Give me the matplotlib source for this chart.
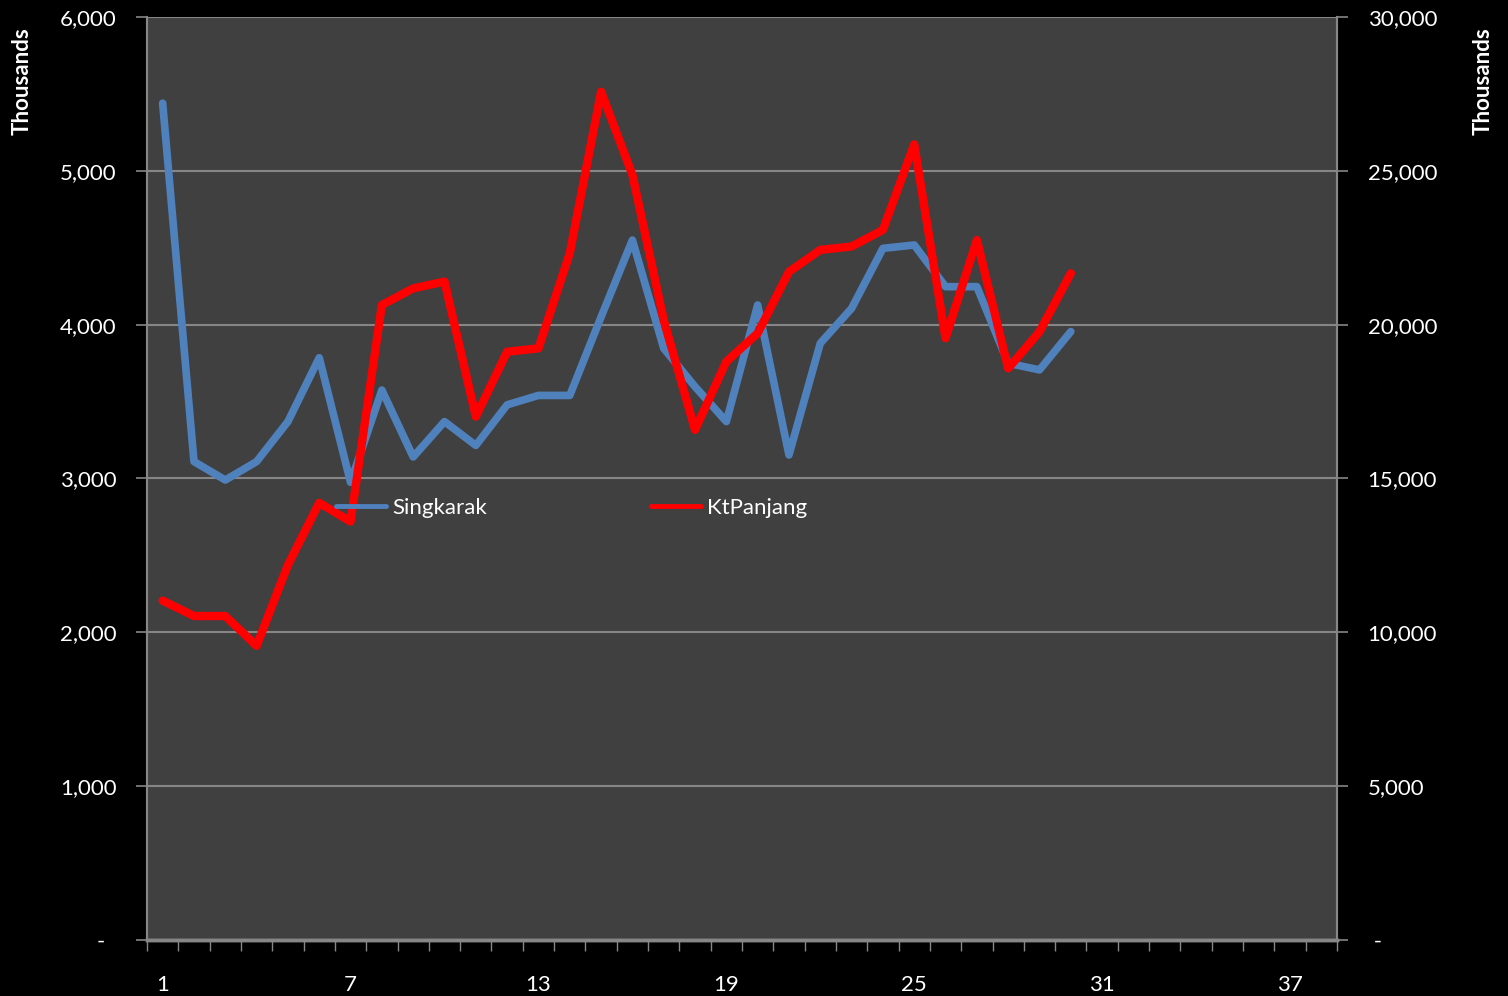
import matplotlib
matplotlib.use("Agg")
import matplotlib.pyplot as plt
from matplotlib.ticker import FuncFormatter, MultipleLocator

plt.rcParams['font.family'] = ['Lato', 'DejaVu Sans']

# data (thousands), categories 1..30 out of 38 slots
periods = list(range(1, 31))
singkarak = [5440, 3110, 2990, 3110, 3370, 3785, 2975, 3575, 3140, 3370,
             3215, 3479, 3540, 3540, 4050, 4550, 3846, 3597, 3370, 4128,
             3153, 3879, 4106, 4496, 4518, 4247, 4247, 3749, 3706, 3955]
ktpanjang = [11030, 10530, 10530, 9560, 12190, 14210, 13600, 20640, 21180, 21400,
             17010, 19120, 19230, 22320, 27570, 24870, 20150, 16580, 18800, 19720,
             21720, 22430, 22540, 23080, 25860, 19560, 22750, 18580, 19770, 21670]
n_slots = 38
xlabels = [1, 7, 13, 19, 25, 31, 37]

BG = '#000000'
PLOT_BG = '#404040'
GRID = '#868686'
BLUE = '#4F81BD'
RED = '#FF0000'

fig = plt.figure(figsize=(15.08, 9.96), dpi=100, facecolor=BG)
ax = fig.add_axes([147/1508, 1 - 940/996, 1190/1508, 923/996])
ax2 = ax.twinx()

ax.set_facecolor(PLOT_BG)
ax2.patch.set_visible(False)
ax2.set_zorder(ax.get_zorder() + 1)

l1, = ax.plot(periods, singkarak, color=BLUE, lw=5.5, solid_joinstyle='round',
              solid_capstyle='round', label='Singkarak')
l2, = ax2.plot(periods, ktpanjang, color=RED, lw=6, solid_joinstyle='round',
               solid_capstyle='round', label='KtPanjang')

ax.set_xlim(0.5, n_slots + 0.5)
ax.set_ylim(0, 6000)
ax2.set_ylim(0, 30000)
ax.yaxis.set_major_locator(MultipleLocator(1000))
ax2.yaxis.set_major_locator(MultipleLocator(5000))


def left_fmt(v, pos):
    return '-  ' if v == 0 else f'{int(v):,}'


def right_fmt(v, pos):
    return ' -' if v == 0 else f'{int(v):,}'


ax.yaxis.set_major_formatter(FuncFormatter(left_fmt))
ax2.yaxis.set_major_formatter(FuncFormatter(right_fmt))

ax.grid(axis='y', color=GRID, lw=1.5)
ax.set_axisbelow(True)

# x ticks: marks at category boundaries, labels every 6th category
ax.set_xticks(xlabels)
ax.set_xticklabels([str(v) for v in xlabels])
ax.set_xticks([i + 0.5 for i in range(0, n_slots + 1)], minor=True)
ax.tick_params(axis='x', which='major', length=0, pad=25, labelsize=16, colors='white')
ax.tick_params(axis='x', which='minor', length=8, width=1, color=GRID, direction='out')
ax.tick_params(axis='y', length=8, width=1.2, color=GRID, pad=14, labelsize=16,
               labelcolor='white')
ax2.tick_params(axis='y', length=8, width=1.2, color=GRID, pad=14, labelsize=16,
                labelcolor='white')

for a in (ax, ax2):
    a.spines['top'].set_visible(False)
    a.spines['left'].set_color(GRID)
    a.spines['right'].set_color(GRID)
    a.spines['bottom'].set_color(GRID)
    a.spines['left'].set_linewidth(1.5)
    a.spines['right'].set_linewidth(1.5)
    a.spines['bottom'].set_linewidth(2.5)

fig.text(22/1508, 1 - 27/996, 'Thousands', rotation=90, color='white',
         fontsize=16, fontweight='bold', ha='center', va='top')
fig.text(1483/1508, 1 - 27/996, 'Thousands', rotation=90, color='white',
         fontsize=16, fontweight='bold', ha='center', va='top')

leg = ax2.legend([l1, l2], ['Singkarak', 'KtPanjang'], ncol=2, frameon=False,
                 loc='center left', bbox_to_anchor=(0.142, 0.468),
                 fontsize=16, labelcolor='white', handlelength=2.25,
                 handletextpad=0.27, columnspacing=7.4)
for h in leg.get_lines():
    h.set_linewidth(3.5)

fig.savefig('out.png', dpi=100, facecolor=BG)
